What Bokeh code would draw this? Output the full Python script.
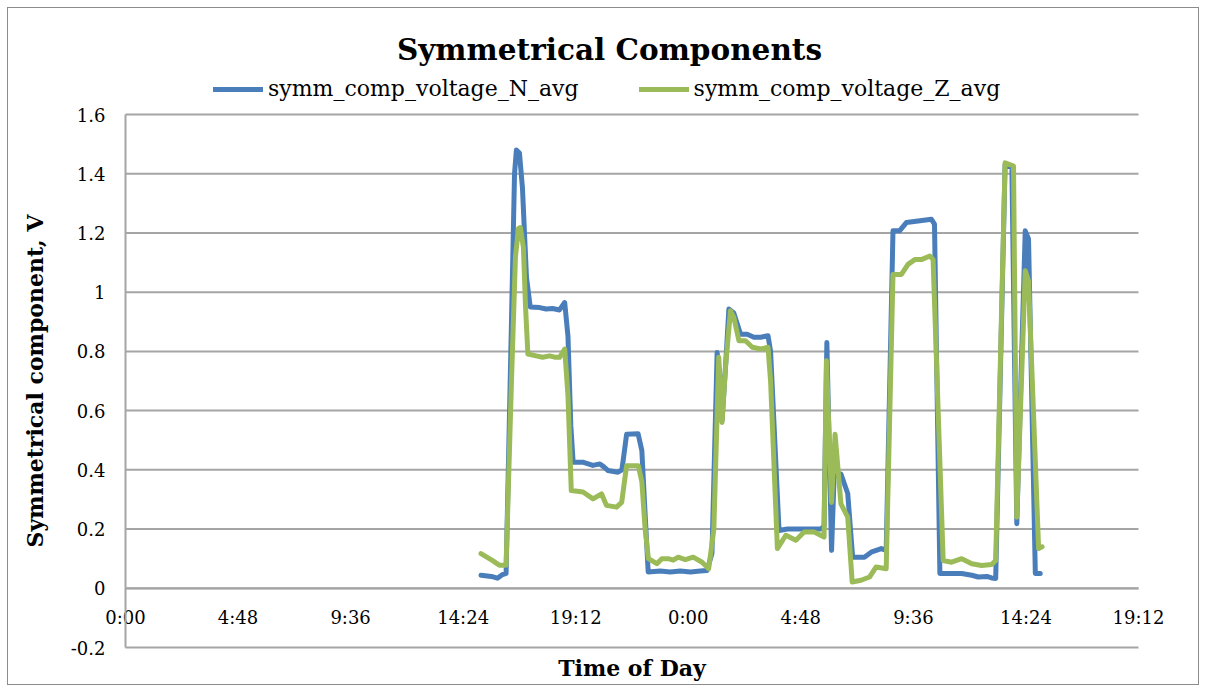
from bokeh.plotting import figure
from bokeh.models import Range1d, FixedTicker, Legend, LegendItem, Label
from bokeh.layouts import column
from bokeh.embed import file_html
from bokeh.resources import INLINE

# ---- data (x = hours since 0:00 of the first day) ----
n_hours = [15.16, 15.60, 15.86, 16.05, 16.23, 16.46, 16.59, 16.67, 16.80, 16.93, 17.10, 17.26,
           17.66, 17.94, 18.21, 18.51, 18.73, 18.87, 18.99, 19.09, 19.50, 19.93, 20.23, 20.40,
           20.57, 21.00, 21.17, 21.37, 21.86, 22.02, 22.16, 22.29, 22.80, 23.23, 23.66, 24.09,
           24.51, 24.80, 25.01, 25.23, 25.37, 25.44, 25.59, 25.73, 25.94, 26.23, 26.51, 26.80,
           27.09, 27.40, 27.51, 27.87, 28.23, 28.80, 29.36, 29.66, 29.79, 29.91, 30.11, 30.22,
           30.51, 30.80, 31.01, 31.51, 31.80, 32.23, 32.44, 32.73, 33.01, 33.30, 33.80, 34.37,
           34.50, 34.73, 35.23, 35.66, 36.09, 36.37, 36.73, 36.94, 37.11, 37.51, 37.80, 38.01,
           38.37, 38.51, 38.80, 39.01]
n_values = [0.044, 0.040, 0.034, 0.045, 0.050, 0.900, 1.400, 1.480, 1.470, 1.350, 1.050, 0.950,
            0.948, 0.943, 0.945, 0.940, 0.965, 0.850, 0.550, 0.426, 0.426, 0.415, 0.420, 0.410,
            0.398, 0.392, 0.400, 0.520, 0.522, 0.465, 0.250, 0.055, 0.058, 0.055, 0.058, 0.055,
            0.058, 0.060, 0.118, 0.796, 0.700, 0.566, 0.750, 0.943, 0.930, 0.858, 0.858, 0.848,
            0.848, 0.853, 0.800, 0.195, 0.200, 0.200, 0.200, 0.200, 0.210, 0.830, 0.128, 0.380,
            0.386, 0.320, 0.105, 0.105, 0.122, 0.134, 0.128, 1.207, 1.207, 1.235, 1.240, 1.246,
            1.230, 0.050, 0.050, 0.050, 0.044, 0.038, 0.040, 0.035, 0.033, 1.430, 1.420, 0.218,
            1.207, 1.180, 0.050, 0.050]

z_hours = [15.16, 15.64, 15.94, 16.23, 16.46, 16.63, 16.76, 16.84, 16.97, 17.06, 17.16, 17.51,
           17.79, 18.09, 18.34, 18.51, 18.73, 18.87, 19.01, 19.51, 19.94, 20.30, 20.51, 20.94,
           21.16, 21.37, 21.87, 22.02, 22.16, 22.30, 22.66, 22.87, 23.14, 23.36, 23.57, 23.87,
           24.21, 24.59, 24.87, 25.09, 25.30, 25.44, 25.59, 25.80, 25.94, 26.16, 26.44, 26.73,
           27.09, 27.40, 27.51, 27.80, 28.16, 28.59, 28.94, 29.37, 29.79, 29.89, 30.11, 30.26,
           30.51, 30.80, 30.99, 31.37, 31.73, 32.01, 32.44, 32.73, 33.09, 33.37, 33.66, 33.94,
           34.30, 34.44, 34.87, 35.23, 35.66, 36.09, 36.51, 36.94, 37.11, 37.51, 37.87, 38.01,
           38.37, 38.51, 38.94, 39.09]
z_values = [0.117, 0.094, 0.078, 0.078, 0.700, 1.120, 1.215, 1.218, 1.150, 0.950, 0.791, 0.785,
            0.780, 0.785, 0.780, 0.780, 0.808, 0.650, 0.330, 0.325, 0.302, 0.319, 0.280, 0.274,
            0.290, 0.414, 0.414, 0.360, 0.200, 0.100, 0.083, 0.100, 0.100, 0.095, 0.105, 0.097,
            0.105, 0.088, 0.066, 0.200, 0.780, 0.560, 0.750, 0.937, 0.915, 0.836, 0.836, 0.814,
            0.808, 0.814, 0.700, 0.134, 0.179, 0.162, 0.190, 0.190, 0.173, 0.768, 0.290, 0.520,
            0.285, 0.240, 0.021, 0.027, 0.038, 0.072, 0.066, 1.060, 1.060, 1.094, 1.110, 1.110,
            1.122, 1.110, 0.094, 0.088, 0.100, 0.083, 0.077, 0.080, 0.094, 1.437, 1.426, 0.240,
            1.072, 1.038, 0.134, 0.140]

x_ticks = [0, 4.8, 9.6, 14.4, 19.2, 24, 28.8, 33.6, 38.4, 43.2]
x_tick_labels = ["0:00", "4:48", "9:36", "14:24", "19:12", "0:00", "4:48", "9:36", "14:24", "19:12"]
y_ticks = [-0.2, 0, 0.2, 0.4, 0.6, 0.8, 1, 1.2, 1.4, 1.6]
y_tick_labels = ["-0.2", "0", "0.2", "0.4", "0.6", "0.8", "1", "1.2", "1.4", "1.6"]

series_names = ["symm_comp_voltage_N_avg", "symm_comp_voltage_Z_avg"]
title_text = "Symmetrical Components"
x_title = "Time of Day"
y_title = "Symmetrical component, V"

# ---- layout (page pixels) ----
FONT = "DejaVu Serif"
GRID = "#a5a5a5"
BLUE = "#4a7ebb"
GREEN = "#9bbb59"
PAGE_W, PAGE_H = 1206, 692
INSET = 8                                  # white margin + chart border
PA_L, PA_R, PA_T, PA_B = 125, 1138, 114, 647   # Excel plot area
F_L, F_R, F_T, F_B = INSET + 2, PAGE_W - INSET - 2, INSET + 2, PAGE_H - INSET
px_x = (PA_R - PA_L) / (x_ticks[-1] - x_ticks[0])
px_y = (PA_B - PA_T) / (y_ticks[-1] - y_ticks[0])
x_lo = x_ticks[0] - (PA_L - F_L) / px_x
x_hi = x_ticks[-1] + (F_R - PA_R) / px_x
y_lo = y_ticks[0] - (F_B - PA_B) / px_y
y_hi = y_ticks[-1] + (PA_T - F_T) / px_y

p = figure(width=PAGE_W - 2 * INSET, height=PAGE_H - 2 * INSET, title=None,
           output_backend="svg", toolbar_location=None,
           x_range=Range1d(x_lo, x_hi), y_range=Range1d(y_lo, y_hi),
           min_border_left=F_L - INSET, min_border_right=PAGE_W - INSET - F_R,
           min_border_top=F_T - INSET, min_border_bottom=PAGE_H - INSET - F_B)
p.background_fill_color = "white"
p.border_fill_color = "white"
p.outline_line_color = None
p.xgrid.visible = False
p.ygrid.visible = False

# horizontal gridlines across the plot area only
p.segment(x0=[x_ticks[0]] * len(y_ticks), x1=[x_ticks[-1]] * len(y_ticks),
          y0=y_ticks, y1=y_ticks, line_color=GRID, line_width=2)

# y axis at x = 0
ya = p.yaxis[0]
ya.fixed_location = x_ticks[0]
ya.bounds = (y_ticks[0], y_ticks[-1])
ya.ticker = FixedTicker(ticks=y_ticks)
ya.major_label_overrides = dict(zip(y_ticks, y_tick_labels))
ya.major_tick_in = 0
ya.major_tick_out = 0
ya.minor_tick_in = 0
ya.minor_tick_out = 0
ya.axis_line_color = GRID
ya.axis_line_width = 2
ya.major_label_standoff = 20
ya.major_label_text_font = FONT
ya.major_label_text_font_size = "18px"
ya.major_label_text_color = "black"
ya.axis_label = y_title
ya.axis_label_text_font = FONT
ya.axis_label_text_font_style = "bold"
ya.axis_label_text_font_size = "22px"
ya.axis_label_text_color = "black"
ya.axis_label_standoff = 20

# x axis crossing at y = 0, as in the original
xa = p.xaxis[0]
xa.fixed_location = 0
xa.bounds = (x_ticks[0], x_ticks[-1])
xa.ticker = FixedTicker(ticks=x_ticks)
xa.major_label_overrides = dict(zip(x_ticks, x_tick_labels))
xa.axis_line_color = GRID
xa.axis_line_width = 2
xa.major_tick_in = 0
xa.major_tick_out = 0
xa.minor_tick_in = 0
xa.minor_tick_out = 0
xa.major_label_standoff = 19
xa.major_label_text_font = FONT
xa.major_label_text_font_size = "18px"
xa.major_label_text_color = "black"
xa.axis_label = x_title
xa.axis_label_text_font = FONT
xa.axis_label_text_font_style = "bold"
xa.axis_label_text_font_size = "22px"
xa.axis_label_text_color = "black"
xa.axis_label_standoff = 23

r_n = p.line(n_hours, n_values, line_width=5, line_color=BLUE, line_join="round", line_cap="round")
r_z = p.line(z_hours, z_values, line_width=5, line_color=GREEN, line_join="round", line_cap="round")

# chart title (centred on the chart area, as in the original)
TITLE_CX, TITLE_CY = 609, 49
p.add_layout(Label(x=x_ticks[0] + (TITLE_CX - PA_L) / px_x,
                   y=y_ticks[-1] + (PA_T - TITLE_CY) / px_y,
                   text=title_text, text_align="center", text_baseline="middle",
                   text_font=FONT, text_font_style="bold", text_font_size="29.5px",
                   text_color="black"))

LEG_L, LEG_B = 213, 101
legend = Legend(items=[LegendItem(label=series_names[0], renderers=[r_n]),
                       LegendItem(label=series_names[1], renderers=[r_z])],
                orientation="horizontal", location=(LEG_L - F_L, F_B - LEG_B),
                padding=0, margin=0, spacing=60, label_standoff=5,
                glyph_width=50, glyph_height=20,
                label_text_font=FONT, label_text_font_size="22px", label_text_color="black",
                border_line_color=None, background_fill_alpha=0)
p.add_layout(legend)

root = column(p, margin=(INSET - 1, INSET - 1, INSET - 1, INSET - 1),
              styles={"border": "1px solid #8c8c8c", "background-color": "white"})

open("out.html", "w").write(file_html(root, INLINE))
